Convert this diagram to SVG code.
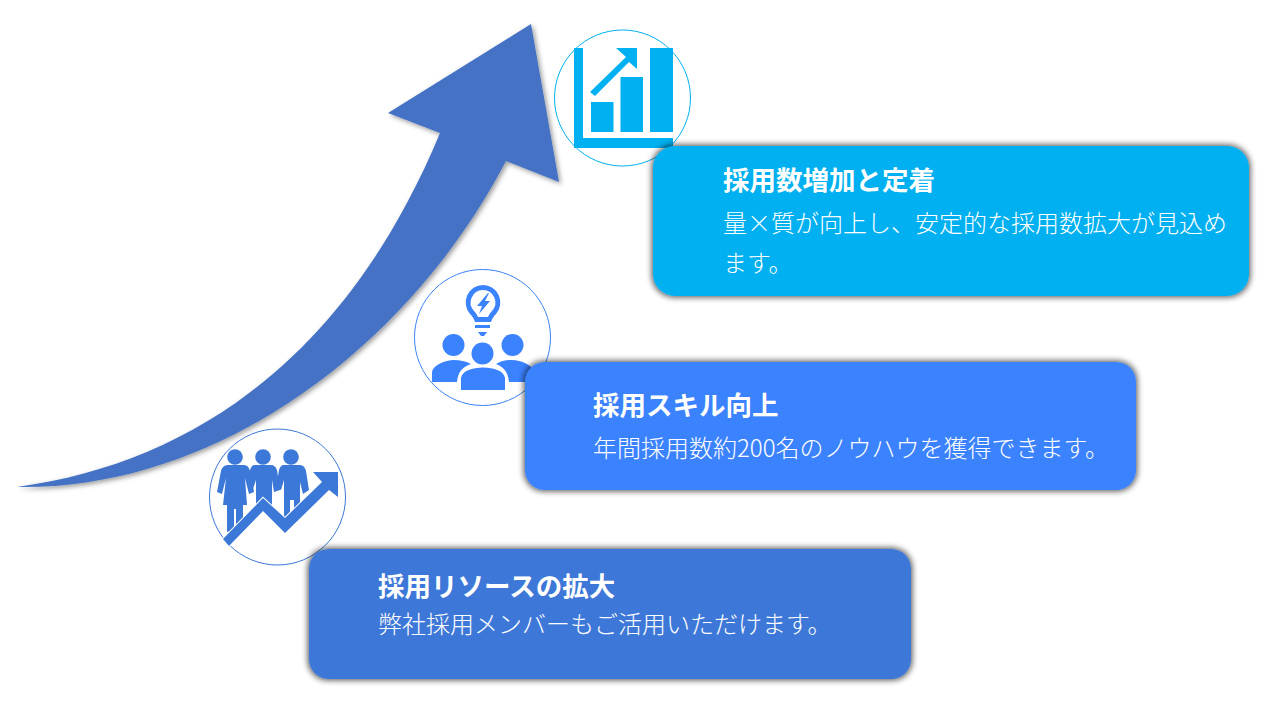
<svg xmlns="http://www.w3.org/2000/svg" width="1280" height="720" viewBox="0 0 1280 720">
<defs>
<filter id="shadow" x="-5%" y="-15%" width="110%" height="130%"><feMorphology in="SourceAlpha" operator="dilate" radius="1"/><feGaussianBlur stdDeviation="3"/><feComponentTransfer result="s"><feFuncA type="linear" slope="0.7"/></feComponentTransfer><feMerge><feMergeNode in="s"/><feMergeNode in="SourceGraphic"/></feMerge></filter>
<filter id="ashadow" x="-5%" y="-5%" width="110%" height="110%"><feDropShadow dx="2" dy="2" stdDeviation="2.500" flood-color="#000" flood-opacity="0.4"/></filter>
</defs>
<style>
text{font-family:"Noto Sans CJK JP","Noto Sans",sans-serif;fill:#fff;font-size:24px;font-weight:300}
text.h{font-weight:700;font-size:26.500px}
.ring{fill:#fff;stroke-width:1}
</style>
<rect width="1280" height="720" fill="#fff"/>
<g id="growth-arrow"><path d="M17 487C200 462 350 350 440 133L388 113L531 24L559 182L506 161C410 345 220 490 17 487Z" fill="#4472c4" filter="url(#ashadow)"/></g>
<g id="icon-resources">
<circle class="ring" cx="277.500" cy="497" r="68" stroke="#3c78d8"/>
<g fill="#3c78d8">
<circle cx="235" cy="457" r="7.800"/><circle cx="263" cy="457" r="7.800"/><circle cx="291" cy="457" r="7.800"/>
<path d="M228 465H244C247 465 249 467 250 471L254 492L249 494L245 478L247 505H243V525L236 528V509H234V530L227 532V505H223L226 478L222 494L217 492L221 471C222 467 225 465 228 465Z"/>
<path d="M255 465H271C274 465 276 467 277 470L280 490L274 492L272 480V505H256V480L252 492L248 490L250 470C251 467 252 465 255 465Z"/>
<path d="M284 465H300C303 465 305 467 306 471L309 490L303 494L300 482V505L294 512V500H290V512L284 520V480L281 490L276 488L279 470C280 467 281 465 284 465Z"/>
<path d="M223 539L263 498L285 518L322 482L313 472H338V497L329 490L285 533L263 511L229 546Z" stroke="#fff" stroke-width="2" paint-order="stroke"/>
</g>
</g>
<g id="icon-skills">
<circle class="ring" cx="482.500" cy="337.500" r="68" stroke="#3b82f6"/>
<g fill="#3b82ff">
<path fill-rule="evenodd" d="M483 285A17.500 17.500 0 0 1 496 314C493 317 492 319 491 322H475C474 319 473 317 470 314A17.500 17.500 0 0 1 483 285ZM483 290A12.500 12.500 0 0 0 474 311C476 313 477 315 478 317H488C489 315 490 313 492 311A12.500 12.500 0 0 0 483 290Z"/>
<path d="M488 293L477 306H482L479 314L490 301H485L489 293Z"/>
<rect x="475" y="325" width="15" height="3"/><path d="M478 332H487L484 336H481Z"/>
<circle cx="453.500" cy="345" r="11"/><circle cx="512.500" cy="345" r="11"/><circle cx="482.500" cy="353.500" r="11"/>
<path d="M432 382V372C433 365 445 360 454 360C460 360 465 361 471 364C462 367 458 372 457 382Z"/>
<path d="M461 390V378C462 371 472 367.500 483 367.500C494 367.500 504 371 505 378V390Z"/>
<path d="M496 364C501 361 506 360 512 360C521 360 533 365 534 372V382H509C508 372 504 367 496 364Z"/>
</g>
</g>
<g id="icon-hiring">
<circle class="ring" cx="622.500" cy="98" r="68" stroke="#00b0f0"/>
<g fill="#00b0f0">
<path d="M574 48H583V138H673V148H574Z"/>
<rect x="591" y="102" width="22.500" height="30"/><rect x="620.500" y="77" width="22.500" height="55"/><rect x="650" y="48" width="23" height="84"/>
<path d="M590 92L626 57L616 48H637V69L629 62L595 96Z"/>
</g>
</g>
<g id="card-resources"><rect x="309" y="549" width="602" height="130" rx="20" fill="#3c78d8" filter="url(#shadow)"/>
<text class="h" x="378" y="596">採用リソースの拡大</text><text x="378" y="633">弊社採用メンバーもご活用いただけます。</text></g>
<g id="card-skills"><rect x="525" y="362" width="611" height="128" rx="20" fill="#3b82ff" filter="url(#shadow)"/>
<text class="h" x="593" y="415">採用スキル向上</text><text x="593" y="457">年間採用数約200名のノウハウを獲得できます。</text></g>
<g id="card-hiring"><rect x="653" y="146" width="596" height="150" rx="22" fill="#00b0f0" filter="url(#shadow)"/>
<text class="h" x="723" y="190">採用数増加と定着</text><text x="723" y="232">量×質が向上し、安定的な採用数拡大が見込め</text><text x="723" y="272">ます。</text></g>
</svg>
